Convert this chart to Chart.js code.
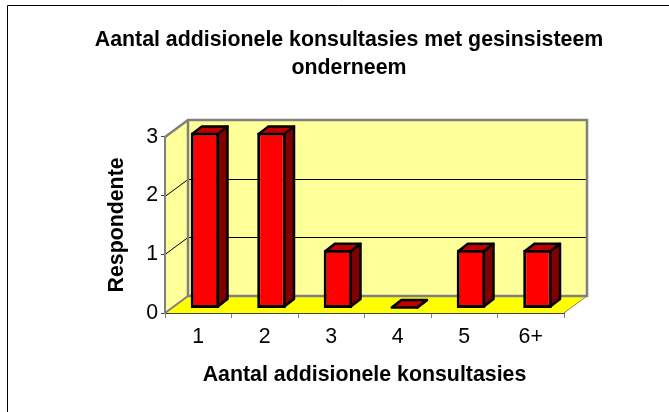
<!DOCTYPE html>
<html>
<head>
<meta charset="utf-8">
<title>Aantal addisionele konsultasies</title>
<style>
  html, body { margin: 0; padding: 0; background: #fff; }
  canvas { display: block; }
</style>
<script src="https://cdn.jsdelivr.net/npm/chart.js@4"></script>
</head>
<body>
<canvas id="myChart" width="669" height="412"></canvas>
<script>
var categories = ['1', '2', '3', '4', '5', '6+'];
var respondents = [3, 3, 1, 0, 1, 1];
var titleLines = ['Aantal addisionele konsultasies met gesinsisteem', 'onderneem'];
var xTitle = 'Aantal addisionele konsultasies';
var yTitle = 'Respondente';

var fontName = '"Liberation Sans", Arial, sans-serif';

// the fake 3d look: back wall offset and how far the bars sit from the front plane
var wallDx = 23, wallDy = -17;
var barShiftX = 6.75, barShiftY = -4.5;
var barDx = 9.7, barDy = -7.5;

function poly(c, pts, fill, stroke, lw) {
  c.beginPath();
  c.moveTo(pts[0][0], pts[0][1]);
  for (var i = 1; i < pts.length; i++) c.lineTo(pts[i][0], pts[i][1]);
  c.closePath();
  if (fill) { c.fillStyle = fill; c.fill(); }
  if (stroke) { c.strokeStyle = stroke; c.lineWidth = lw; c.lineJoin = 'round'; c.stroke(); }
}

var walls = {
  id: 'walls',
  beforeDraw: function (chart) {
    var c = chart.ctx, a = chart.chartArea, y = chart.scales.y;
    var l = a.left, r = a.right, t = a.top, b = a.bottom;

    c.save();
    // frame, only top and left show in the picture
    c.strokeStyle = '#000';
    c.lineWidth = 1;
    c.beginPath();
    c.moveTo(7.5, 412);
    c.lineTo(7.5, 5.5);
    c.lineTo(669, 5.5);
    c.stroke();

    poly(c, [[l + wallDx, t + wallDy], [r + wallDx, t + wallDy], [r + wallDx, b + wallDy], [l + wallDx, b + wallDy]], '#FFFF99');
    poly(c, [[l, t], [l + wallDx, t + wallDy], [l + wallDx, b + wallDy], [l, b]], '#FFFF99');
    poly(c, [[l, b], [r, b], [r + wallDx, b + wallDy], [l + wallDx, b + wallDy]], '#FFFF00');

    // grid lines run along the side wall and then the back wall
    c.strokeStyle = '#000';
    c.lineWidth = 1;
    y.ticks.forEach(function (tick) {
      if (tick.value === y.min || tick.value === y.max) return;
      var py = Math.round(y.getPixelForValue(tick.value)) + 0.5;
      c.beginPath();
      c.moveTo(l, py);
      c.lineTo(l + wallDx, py + wallDy);
      c.lineTo(r + wallDx, py + wallDy);
      c.stroke();
    });

    // gray wall edges
    c.strokeStyle = '#808080';
    c.lineWidth = 2.5;
    c.lineJoin = 'miter';
    c.beginPath();
    c.moveTo(l, t);
    c.lineTo(l + wallDx, t + wallDy);
    c.lineTo(r + wallDx, t + wallDy);
    c.lineTo(r + wallDx, b + wallDy);
    c.lineTo(l + wallDx, b + wallDy);
    c.lineTo(l + wallDx, t + wallDy);
    c.stroke();
    c.lineWidth = 2;
    c.beginPath();
    c.moveTo(l, b);
    c.lineTo(l + wallDx, b + wallDy);
    c.stroke();
    c.lineWidth = 1;
    c.beginPath();
    c.moveTo(r, b);
    c.lineTo(r + wallDx, b + wallDy);
    c.stroke();
    c.restore();
  },
  beforeDatasetsDraw: function (chart) {
    var c = chart.ctx;
    c.save();
    c.translate(barShiftX, barShiftY);
  },
  afterDatasetsDraw: function (chart) {
    var c = chart.ctx;
    chart.getDatasetMeta(0).data.forEach(function (bar) {
      // go to the middle of the native border so the faces join it
      var left = bar.x - bar.width / 2 + 1.5, right = bar.x + bar.width / 2 - 1.5;
      var flat = bar.base - bar.y < 1;
      var top = flat ? bar.base - 1 : bar.y + 1.5;
      var base = flat ? bar.base - 1 : bar.base - 1.5;
      poly(c, [[right, top], [right + barDx, top + barDy], [right + barDx, base + barDy], [right, base]], '#800000', '#000', 2.5);
      poly(c, [[left, top], [left + barDx, top + barDy], [right + barDx, top + barDy], [right, top]], '#C00000', '#000', 2.5);
    });
    c.restore();
  }
};

var ctx = document.getElementById('myChart').getContext('2d');
var myChart = new Chart(ctx, {
  type: 'bar',
  plugins: [walls],
  data: {
    labels: categories,
    datasets: [{
      data: respondents,
      backgroundColor: '#FF0000',
      borderColor: '#000000',
      borderWidth: 3,
      borderSkipped: false,
      categoryPercentage: 1,
      barPercentage: 0.43
    }]
  },
  options: {
    responsive: false,
    animation: false,
    clip: false,
    // left padding moves the main title to where it sits in the picture
    layout: { padding: { left: 29 } },
    plugins: {
      legend: { display: false },
      tooltip: { enabled: false },
      title: {
        display: true,
        text: titleLines,
        color: '#000',
        font: { family: fontName, size: 21.33, weight: 'bold', lineHeight: 1.31 },
        padding: { top: 26, bottom: 55 }
      }
    },
    scales: {
      x: {
        afterFit: function (s) { s.height = 99; },
        grid: { drawOnChartArea: false, tickLength: 5, color: '#808080' },
        border: { color: '#404040', width: 1 },
        ticks: { color: '#000', padding: 6, maxRotation: 0, font: { family: fontName, size: 21.33 } },
        title: {
          display: true,
          text: xTitle,
          color: '#000',
          font: { family: fontName, size: 21.33, weight: 'bold' },
          padding: { top: 0, bottom: 24 }
        }
      },
      y: {
        min: 0,
        max: 3,
        afterFit: function (s) { s.width = 136; },
        grid: { drawOnChartArea: false, tickLength: 4, color: '#404040' },
        border: { color: '#808080', width: 2 },
        ticks: { stepSize: 1, color: '#000', padding: 3, font: { family: fontName, size: 21.33 } },
        title: {
          display: true,
          text: yTitle,
          color: '#000',
          font: { family: fontName, size: 21.33, weight: 'bold' },
          padding: { top: 75, bottom: 0 }
        }
      },
      // empty axis that only keeps room on the right for the back wall
      spare: {
        type: 'linear',
        position: 'right',
        afterFit: function (s) { s.width = 105; },
        grid: { display: false },
        border: { display: false },
        ticks: { display: false }
      }
    }
  }
});
</script>
</body>
</html>
